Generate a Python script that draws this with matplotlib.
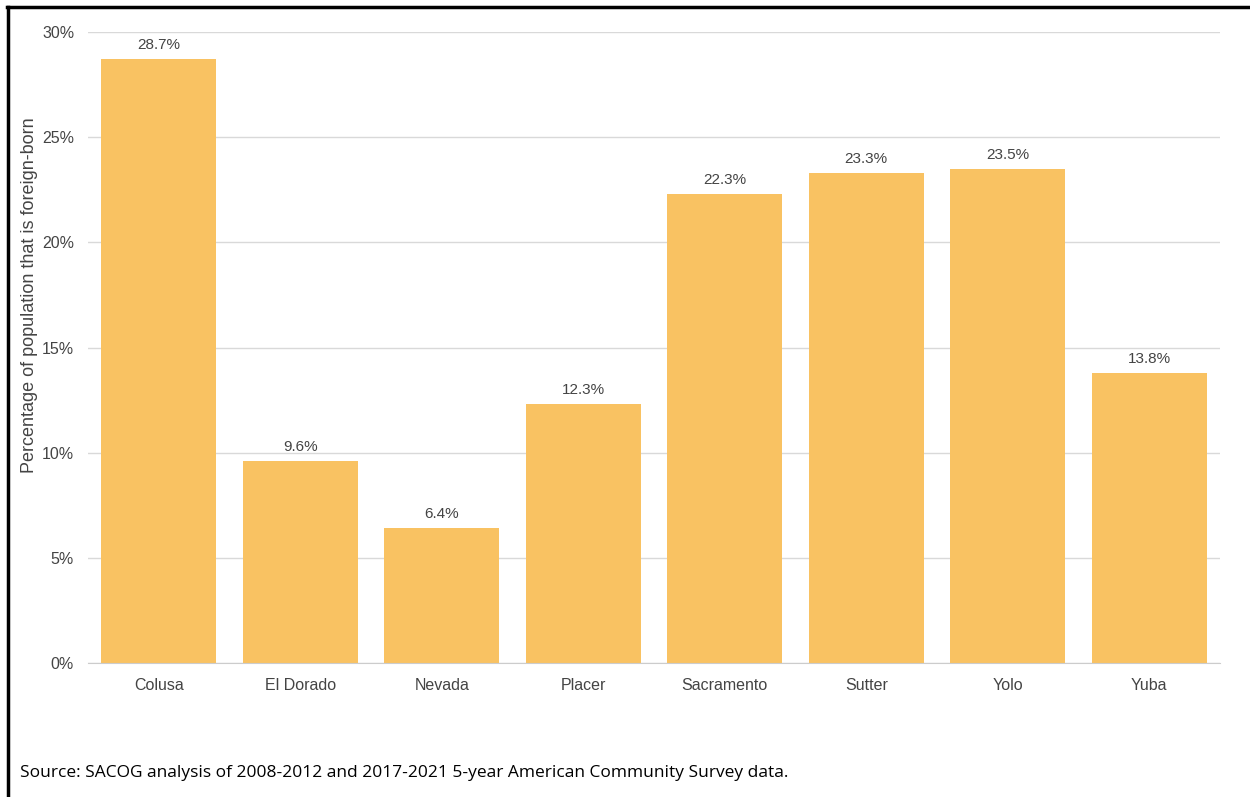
import matplotlib
matplotlib.use('Agg')
import matplotlib.pyplot as plt
from matplotlib.lines import Line2D

counties = ["Colusa", "El Dorado", "Nevada", "Placer", "Sacramento", "Sutter", "Yolo", "Yuba"]
pct_foreign_born = [28.7, 9.6, 6.4, 12.3, 22.3, 23.3, 23.5, 13.8]
y_ticks = [0, 5, 10, 15, 20, 25, 30]

bar_color = "#F9C262"
text_color = "#444444"

fig = plt.figure(figsize=(12.5, 7.97), dpi=100)
ax = fig.add_axes([88 / 1250, 1 - 663 / 797, (1220 - 88) / 1250, (663 - 32) / 797])

x = range(len(counties))
bars = ax.bar(x, pct_foreign_born, width=0.81, color=bar_color, zorder=2)
for b, v in zip(bars, pct_foreign_born):
    ax.annotate(f"{v}%", (b.get_x() + b.get_width() / 2, v), xytext=(0, 5),
                textcoords="offset points", ha="center", va="bottom",
                fontsize=11, color=text_color, family="Liberation Sans")

ax.set_xlim(-0.5, len(counties) - 0.5)
ax.set_ylim(0, 30)
ax.set_yticks(y_ticks)
ax.set_yticklabels([f"{t}%" for t in y_ticks])
ax.set_xticks(list(x))
ax.set_xticklabels(counties)
ax.grid(axis="y", color="#d9d9d9", linewidth=1, zorder=0)
for s in ["top", "right", "left"]:
    ax.spines[s].set_visible(False)
ax.spines["bottom"].set_color("#cccccc")
ax.tick_params(axis="both", length=0, labelsize=11.5, labelcolor=text_color, pad=11)
ax.tick_params(axis="y", pad=10)
for lab in ax.get_xticklabels() + ax.get_yticklabels():
    lab.set_family("Liberation Sans")
ax.set_ylabel("Percentage of population that is foreign-born", fontsize=13,
              color=text_color, family="Liberation Sans")
ax.yaxis.set_label_coords(-0.044, 0.583)

fig.text(20 / 1250, 1 - 773 / 797, "Source: SACOG analysis of 2008-2012 and 2017-2021 5-year American Community Survey data.",
         fontsize=12.5, family="Open Sans", color="black", va="center")

# black frame on top and left edge
fig.add_artist(Line2D([7 / 1250, 1], [1 - 7 / 797, 1 - 7 / 797], color="black", linewidth=2.5, transform=fig.transFigure))
fig.add_artist(Line2D([8 / 1250, 8 / 1250], [0, 1 - 7 / 797], color="black", linewidth=2.5, transform=fig.transFigure))

fig.savefig("out.png", dpi=100)
